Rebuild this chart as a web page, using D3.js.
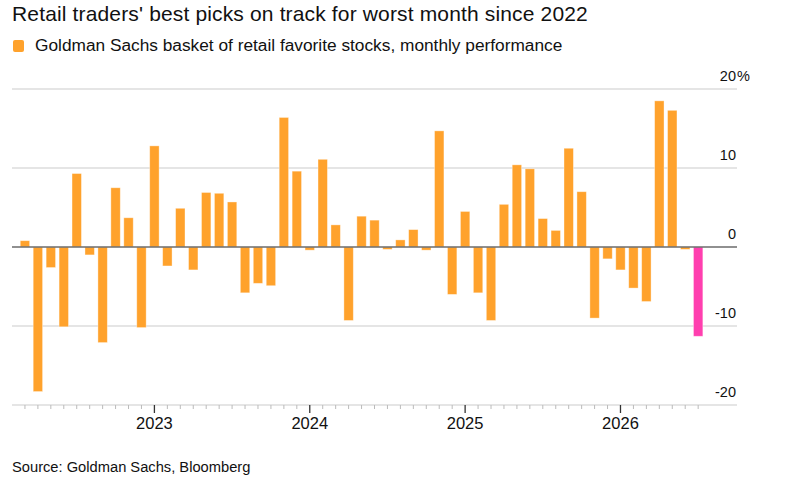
<!DOCTYPE html>
<html>
<head>
<meta charset="utf-8">
<script src="https://cdn.jsdelivr.net/npm/d3@7"></script>
<style>
  body { margin: 0; background: #fff; }
  svg text { font-family: "Liberation Sans", Arial, sans-serif; fill: #111; }
</style>
</head>
<body>
<div id="chart"></div>
<script>
// monthly performance, Mar 2022 .. Jul 2026
var months = [
  '2022-03','2022-04','2022-05','2022-06','2022-07','2022-08','2022-09','2022-10','2022-11','2022-12',
  '2023-01','2023-02','2023-03','2023-04','2023-05','2023-06','2023-07','2023-08','2023-09','2023-10','2023-11','2023-12',
  '2024-01','2024-02','2024-03','2024-04','2024-05','2024-06','2024-07','2024-08','2024-09','2024-10','2024-11','2024-12',
  '2025-01','2025-02','2025-03','2025-04','2025-05','2025-06','2025-07','2025-08','2025-09','2025-10','2025-11','2025-12',
  '2026-01','2026-02','2026-03','2026-04','2026-05','2026-06','2026-07'
];
var values = [
  0.8, -18.3, -2.6, -10.1, 9.3, -1.0, -12.1, 7.5, 3.7, -10.2,
  12.8, -2.4, 4.9, -2.9, 6.9, 6.8, 5.7, -5.8, -4.6, -4.9, 16.4, 9.6,
  -0.4, 11.1, 2.8, -9.3, 3.9, 3.4, -0.3, 0.9, 2.2, -0.4, 14.7, -6.0,
  4.5, -5.8, -9.3, 5.4, 10.4, 9.9, 3.6, 2.1, 12.5, 7.0, -9.0, -1.5,
  -2.9, -5.2, -6.9, 18.5, 17.3, -0.3, -11.3
];
var yTicks = [20, 10, 0, -10, -20];
var yearLabels = ['2023', '2024', '2025', '2026'];

var width = 785, height = 489,
    orange = '#ffa22c',
    pink = '#ff3faf',
    gridColor = '#dddddd';

var svg = d3.select('#chart').append('svg')
    .attr('width', width)
    .attr('height', height);

svg.append('text')
    .attr('x', 12)
    .attr('y', 21)
    .style('font-size', '21px')
    .style('letter-spacing', '0.15px')
    .text("Retail traders' best picks on track for worst month since 2022");

// legend
svg.append('rect')
    .attr('x', 13).attr('y', 40)
    .attr('width', 11).attr('height', 12)
    .attr('rx', 2)
    .attr('fill', orange);
svg.append('text')
    .attr('x', 35)
    .attr('y', 51)
    .style('font-size', '17.3px')
    .text('Goldman Sachs basket of retail favorite stocks, monthly performance');

// month index scale: index 0 = Mar 2022
var x = d3.scaleLinear().domain([-1, 55]).range([12, 737]);
var barW = 9.4;
var y = d3.scaleLinear().domain([-20, 20]).range([405, 89]);

var plot = svg.append('g');

plot.selectAll('.grid')
    .data(yTicks.filter(function (d) { return d !== 0; }))
    .enter().append('line')
    .attr('class', 'grid')
    .attr('x1', 12).attr('x2', 737)
    .attr('y1', function (d) { return y(d); })
    .attr('y2', function (d) { return y(d); })
    .attr('stroke', gridColor)
    .attr('stroke-width', 1.5);

plot.selectAll('.ylab')
    .data(yTicks)
    .enter().append('text')
    .attr('class', 'ylab')
    .attr('x', 736)
    .attr('y', function (d) { return y(d) - 8; })
    .attr('text-anchor', 'end')
    .style('font-size', '14.5px')
    .text(function (d) { return d; });

plot.append('text')
    .attr('x', 737)
    .attr('y', y(20) - 8)
    .style('font-size', '14.5px')
    .text('%');

plot.selectAll('.bar')
    .data(values)
    .enter().append('rect')
    .attr('class', 'bar')
    .attr('x', function (d, i) { return x(i) - barW / 2; })
    .attr('width', barW)
    .attr('y', function (d) { return y(Math.max(0, d)); })
    .attr('height', function (d) { return Math.abs(y(d) - y(0)); })
    .attr('fill', function (d, i) { return i === values.length - 1 ? pink : orange; })
    .attr('stroke', 'rgba(255,255,255,0.45)')
    .attr('stroke-width', 0.8);

plot.append('line')
    .attr('x1', 12).attr('x2', 737)
    .attr('y1', y(0)).attr('y2', y(0))
    .attr('stroke', '#6b6b6b')
    .attr('stroke-width', 1.6);

// month ticks
plot.selectAll('.tick')
    .data(months)
    .enter().append('line')
    .attr('class', 'tick')
    .attr('x1', function (d, i) { return x(i); })
    .attr('x2', function (d, i) { return x(i); })
    .attr('y1', 405)
    .attr('y2', function (d) { return d.slice(5) === '01' ? 413 : 409; })
    .attr('stroke', function (d) { return d.slice(5) === '01' ? '#333' : '#bbb'; })
    .attr('stroke-width', function (d) { return d.slice(5) === '01' ? 1.3 : 1; });

plot.selectAll('.xlab')
    .data(yearLabels)
    .enter().append('text')
    .attr('class', 'xlab')
    .attr('x', function (d) { return x(months.indexOf(d + '-01')); })
    .attr('y', 429)
    .attr('text-anchor', 'middle')
    .style('font-size', '16.5px')
    .text(function (d) { return d; });

svg.append('text')
    .attr('x', 12)
    .attr('y', 472)
    .style('font-size', '14.7px')
    .text('Source: Goldman Sachs, Bloomberg');
</script>
</body>
</html>
